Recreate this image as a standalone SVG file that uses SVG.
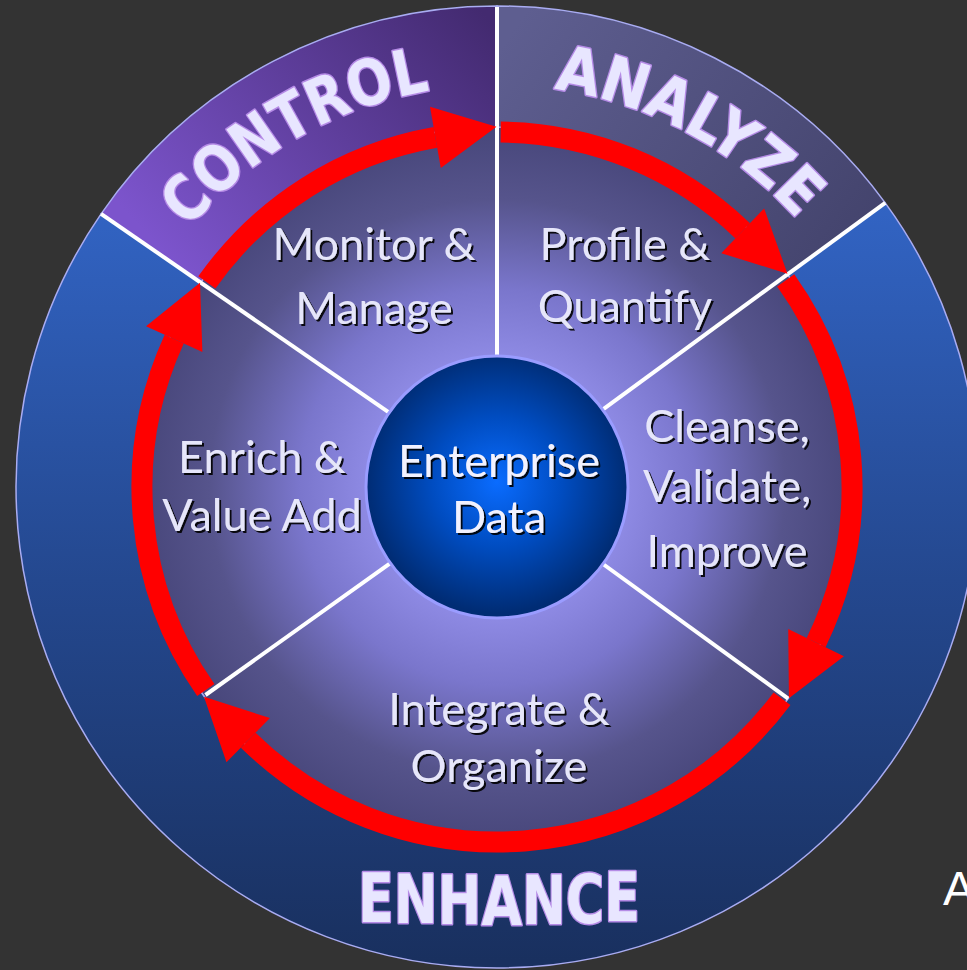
<svg xmlns="http://www.w3.org/2000/svg" width="967" height="970" viewBox="0 0 967 970">
<defs>
  <radialGradient id="pieGrad" gradientUnits="userSpaceOnUse" cx="497" cy="487" r="360">
    <stop offset="0.36" stop-color="#8e8ae4"/>
    <stop offset="0.55" stop-color="#7a76cc"/>
    <stop offset="0.8" stop-color="#56548c"/>
    <stop offset="1" stop-color="#47467a"/>
  </radialGradient>
  <radialGradient id="coreGrad" gradientUnits="userSpaceOnUse" cx="497" cy="482" r="131">
    <stop offset="0" stop-color="#0a6cff"/>
    <stop offset="0.5" stop-color="#004cc0"/>
    <stop offset="1" stop-color="#002c74"/>
  </radialGradient>
  <linearGradient id="blueGrad" gradientUnits="userSpaceOnUse" x1="0" y1="200" x2="0" y2="960">
    <stop offset="0" stop-color="#3264c4"/>
    <stop offset="0.5" stop-color="#24488f"/>
    <stop offset="1" stop-color="#19305f"/>
  </linearGradient>
  <linearGradient id="ctrlGrad" gradientUnits="userSpaceOnUse" x1="480" y1="10" x2="190" y2="280">
    <stop offset="0" stop-color="#432a70"/>
    <stop offset="1" stop-color="#7c54cc"/>
  </linearGradient>
  <linearGradient id="anaGrad" gradientUnits="userSpaceOnUse" x1="520" y1="20" x2="860" y2="260">
    <stop offset="0" stop-color="#5e5e90"/>
    <stop offset="1" stop-color="#43436c"/>
  </linearGradient>
  <filter id="sh" x="-10%" y="-20%" width="130%" height="150%">
    <feDropShadow dx="2" dy="2" stdDeviation="0.6" flood-color="#000" flood-opacity="0.9"/>
  </filter>
  <marker id="arrow" markerUnits="userSpaceOnUse" markerWidth="64" markerHeight="64" refX="0" refY="0" orient="auto" overflow="visible">
    <path d="M0,-31 L62,0 L0,31 Z" fill="#ff0000"/>
  </marker>
  <path id="pControl" d="M101.4,415.8 A402,402 0 0 1 635.8,109.7"/>
  <path id="pAnalyze" d="M347.7,113.7 A402,402 0 0 1 890.5,404.8"/>
  <style>
    .lbl { font-family: Lato, "Open Sans", "Liberation Sans", sans-serif; font-size: 45px; fill: #e6e6fa; text-anchor: middle; filter: url(#sh); }
    .core { font-family: Lato, "Open Sans", "Liberation Sans", sans-serif; font-size: 45px; fill: #f2f2ff; text-anchor: middle; filter: url(#sh); }
    .title { font-family: "DejaVu Sans", "Liberation Sans", sans-serif; font-weight: bold; fill: #e8e6ff; stroke: #b58be6; stroke-width: 3; paint-order: stroke; stroke-linejoin: round; }
    .seg { stroke: #a9acf2; stroke-width: 1.5; }
    .div { stroke: #ffffff; stroke-width: 4; stroke-linecap: butt; }
    .red { fill: none; stroke: #ff0000; stroke-width: 21; marker-end: url(#arrow); }
  </style>
</defs>

<rect width="967" height="970" fill="#333333"/>

<g id="pie">
  <circle cx="497" cy="487" r="360" fill="url(#pieGrad)" stroke="#8c8cf0" stroke-width="1.5"/>
</g>

<g id="control">
  <path class="seg" d="M101.1,213.9 A481,481 0 0 1 497,6 L497,127 A360,360 0 0 0 200.7,282.6 Z" fill="url(#ctrlGrad)"/>
  <text class="title" font-size="63" text-anchor="middle" textLength="284" lengthAdjust="spacingAndGlyphs"><textPath href="#pControl" startOffset="50%">CONTROL</textPath></text>
</g>

<g id="analyze">
  <path class="seg" d="M497,6 A481,481 0 0 1 885.2,202.9 L787.5,274.4 A360,360 0 0 0 497,127 Z" fill="url(#anaGrad)"/>
  <text class="title" font-size="63" text-anchor="middle" textLength="282" lengthAdjust="spacingAndGlyphs"><textPath href="#pAnalyze" startOffset="50%">ANALYZE</textPath></text>
</g>

<g id="enhance">
  <path class="seg" d="M885.2,202.9 A481,481 0 1 1 101.1,213.9 L200.7,282.6 A360,360 0 1 0 787.5,274.4 Z" fill="url(#blueGrad)"/>
  <text class="title" x="358" y="922" dy="0 1 1 1 -1 -1 -2" font-size="68" textLength="282" lengthAdjust="spacingAndGlyphs">ENHANCE</text>
</g>

<g id="dividers">
  <line class="div" x1="497" y1="356" x2="497" y2="7"/>
  <line class="div" x1="602.7" y1="409.6" x2="885.2" y2="202.9"/>
  <line class="div" x1="603.0" y1="564.0" x2="788.2" y2="698.6"/>
  <line class="div" x1="390.4" y1="563.1" x2="205.5" y2="695.0"/>
  <line class="div" x1="389.2" y1="412.6" x2="101.1" y2="213.9"/>
</g>

<g id="connectors">
  <path class="red" d="M206.9,282.4 A355,355 0 0 1 435.4,137.4"/>
  <path class="red" d="M500.7,132.0 A355,355 0 0 1 742.7,230.8"/>
  <path class="red" d="M785.7,280.4 A355,355 0 0 1 816.1,642.6"/>
  <path class="red" d="M782.0,698.7 A355,355 0 0 1 248.2,740.2"/>
  <path class="red" d="M205.8,690.1 A355,355 0 0 1 174.2,339.2"/>
</g>

<g id="core">
  <circle cx="497" cy="487" r="131" fill="url(#coreGrad)" stroke="#9a9cff" stroke-width="3"/>
  <text class="core" x="499" y="477">Enterprise</text>
  <text class="core" x="499" y="533">Data</text>
</g>

<g id="monitor">
  <text class="lbl" x="374" y="260">Monitor &amp;</text>
  <text class="lbl" x="374" y="324">Manage</text>
</g>

<g id="profile">
  <text class="lbl" x="625" y="260">Profile &amp;</text>
  <text class="lbl" x="625" y="322">Quantify</text>
</g>

<g id="cleanse">
  <text class="lbl" x="727" y="442">Cleanse,</text>
  <text class="lbl" x="727" y="502">Validate,</text>
  <text class="lbl" x="727" y="567">Improve</text>
</g>

<g id="integrate">
  <text class="lbl" x="499" y="725">Integrate &amp;</text>
  <text class="lbl" x="499" y="782">Organize</text>
</g>

<g id="enrich">
  <text class="lbl" x="262" y="473">Enrich &amp;</text>
  <text class="lbl" x="262" y="531">Value Add</text>
</g>

<text x="943" y="905" font-family="Liberation Sans, sans-serif" font-size="48" fill="#ffffff">A</text>
</svg>
